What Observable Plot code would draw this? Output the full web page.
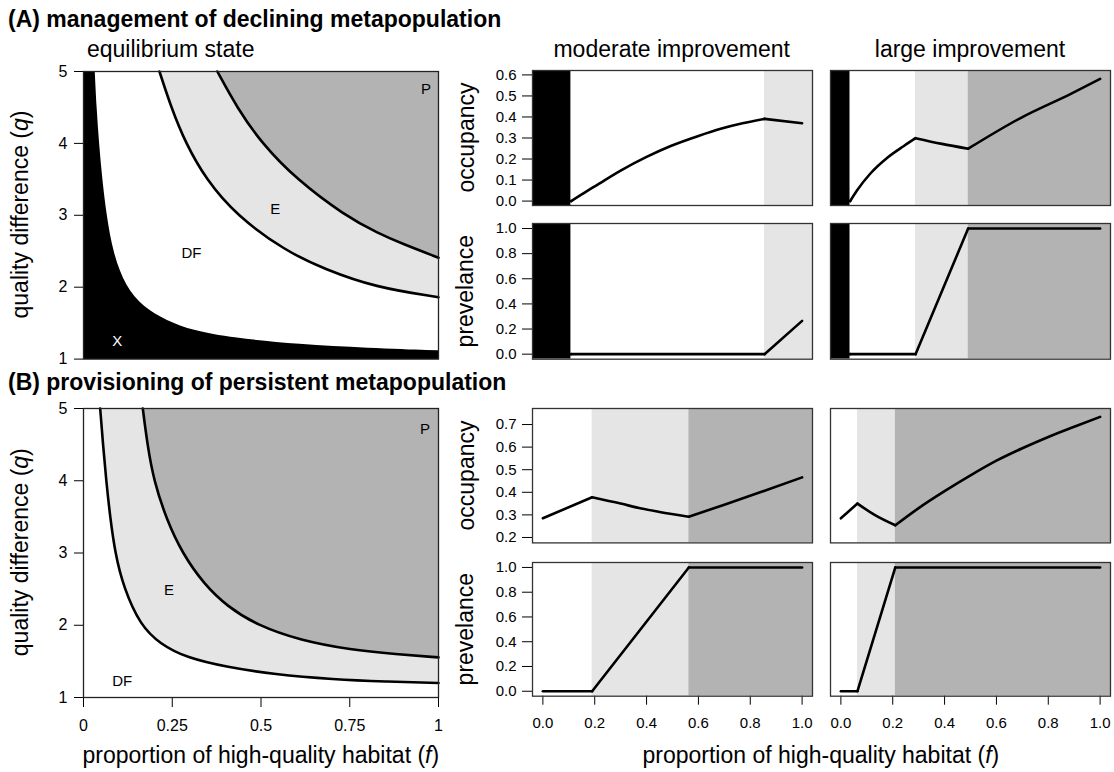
<!DOCTYPE html>
<html><head><meta charset="utf-8">
<script src="https://cdn.jsdelivr.net/npm/d3@7"></script>
<script src="https://cdn.jsdelivr.net/npm/@observablehq/plot@0.6"></script>
<style>
body{margin:0;background:#fff;}
#root{position:relative;width:1114px;height:772px;overflow:hidden;background:#fff;}
svg.pl text{font-size:16px !important;font-family:"Liberation Sans",Arial,sans-serif !important;}
svg.pl g[aria-label="text"] text{font-size:15px !important;}
svg.pr text{font-size:15px !important;font-family:"Liberation Sans",Arial,sans-serif !important;}
</style></head><body><div id="root"></div>
<script>
// ---------------- data ----------------
const stateColor = {X: "#000000", DF: "#ffffff", E: "#e5e5e5", P: "#b3b3b3"};

// (A) equilibrium-state boundaries, f = proportion high quality, q = quality difference
const aExtF = [0.033, 0.038, 0.045, 0.054, 0.066, 0.085, 0.12, 0.169, 0.235, 0.31, 0.42, 0.61, 0.80, 1.0];
const aExtQ = [5, 4.5, 4, 3.5, 3, 2.46, 2, 1.72, 1.53, 1.39, 1.29, 1.20, 1.15, 1.115];
const aEndF = [0.214, 0.247, 0.288, 0.345, 0.43, 0.57, 0.68, 0.82, 1.0];
const aEndQ = [5, 4.5, 4, 3.5, 3, 2.5, 2.25, 2, 1.86];
const aPerF = [0.377, 0.432, 0.502, 0.6, 0.735, 0.83, 0.9, 1.0];
const aPerQ = [5, 4.5, 4, 3.5, 3, 2.75, 2.6, 2.41];
const aLabF = [0.965, 0.54, 0.304];
const aLabQ = [4.76, 3.09, 2.47];
const aLabT = ["P", "E", "DF"];
const aXLabF = [0.095], aXLabQ = [1.25], aXLabT = ["X"];

// (B) equilibrium-state boundaries
const bEndF = [0.047, 0.055, 0.064, 0.075, 0.089, 0.113, 0.16, 0.216, 0.29, 0.405, 0.536, 0.705, 0.85, 1.0];
const bEndQ = [5, 4.5, 4, 3.5, 3, 2.52, 2, 1.74, 1.55, 1.42, 1.32, 1.25, 1.22, 1.2];
const bPerF = [0.167, 0.18, 0.198, 0.235, 0.278, 0.339, 0.405, 0.489, 0.611, 0.753, 0.88, 1.0];
const bPerQ = [5, 4.5, 4, 3.45, 3, 2.57, 2.26, 2, 1.79, 1.66, 1.60, 1.555];
const bLabF = [0.962, 0.241, 0.109];
const bLabQ = [4.72, 2.48, 1.23];
const bLabT = ["P", "E", "DF"];

// right-hand panels: state thresholds along f
const aModStates = ["X", "DF", "E"];
const aModBreaks = [0.109, 0.855];
const aLrgStates = ["X", "DF", "E", "P"];
const aLrgBreaks = [0.036, 0.288, 0.491];
const bModStates = ["DF", "E", "P"];
const bModBreaks = [0.19, 0.563];
const bLrgStates = ["DF", "E", "P"];
const bLrgBreaks = [0.064, 0.21];

// occupancy / prevalence series
const aModOccF = [0.109, 0.173, 0.2, 0.3, 0.4, 0.493, 0.6, 0.686, 0.77, 0.855, 1.0];
const aModOccV = [0, 0.05, 0.07, 0.145, 0.21, 0.262, 0.31, 0.344, 0.37, 0.391, 0.37];
const aModPrvF = [0.109, 0.855, 1.0];
const aModPrvV = [0, 0, 0.265];
const aLrgOccF = [0.036, 0.062, 0.113, 0.178, 0.243, 0.288, 0.39, 0.491, 0.693, 0.887, 1.0];
const aLrgOccV = [0, 0.05, 0.13, 0.205, 0.262, 0.299, 0.272, 0.249, 0.395, 0.51, 0.581];
const aLrgPrvF = [0.036, 0.288, 0.491, 1.0];
const aLrgPrvV = [0, 0, 1, 1];
const bModOccF = [0, 0.19, 0.3, 0.38, 0.45, 0.563, 0.7, 0.85, 1.0];
const bModOccV = [0.285, 0.378, 0.35, 0.328, 0.313, 0.292, 0.345, 0.405, 0.466];
const bModPrvF = [0, 0.19, 0.563, 1.0];
const bModPrvV = [0, 0, 1, 1];
const bLrgOccF = [0, 0.064, 0.13, 0.21, 0.3, 0.4, 0.5, 0.6, 0.7, 0.8, 0.9, 1.0];
const bLrgOccV = [0.285, 0.35, 0.30, 0.254, 0.33, 0.405, 0.475, 0.54, 0.595, 0.645, 0.69, 0.734];
const bLrgPrvF = [0, 0.064, 0.21, 1.0];
const bLrgPrvV = [0, 0, 1, 1];

// ticks
const qTicks = [1, 2, 3, 4, 5];
const fTicksLeft = [0, 0.25, 0.5, 0.75, 1];
const fTickLabelsLeft = ["0", "0.25", "0.5", "0.75", "1"];
const fTicksRight = [0, 0.2, 0.4, 0.6, 0.8, 1.0];
const occTicksA = [0, 0.1, 0.2, 0.3, 0.4, 0.5, 0.6];
const occTicksB = [0.2, 0.3, 0.4, 0.5, 0.6, 0.7];
const prvTicks = [0, 0.2, 0.4, 0.6, 0.8, 1.0];

// ---------------- helpers ----------------
const FONT = '"Liberation Sans", Arial, Helvetica, sans-serif';
const root = document.getElementById("root");
const fDomR = [-0.04, 1.04];

function bands(states, breaks) {
  const edges = [fDomR[0], ...breaks, fDomR[1]];
  return states.map((s, i) => ({state: s, from: edges[i], to: edges[i + 1]}));
}
// split a series at the state thresholds so each state's stretch is its own smooth piece
function segments(F, V, breaks) {
  const out = [];
  F.forEach((f, i) => {
    const k = breaks.filter(b => b <= f + 1e-9).length;
    out.push({f, v: V[i], seg: k});
    if (breaks.some(b => Math.abs(b - f) < 1e-9)) out.push({f, v: V[i], seg: k - 1});
  });
  return out;
}

function place(frame, pad, marks, scales, cls) {
  const [x0, y0, x1, y1] = frame;
  const [pl, pr, pt, pb] = pad;
  const svg = Plot.plot({
    width: x1 - x0 + pl + pr,
    height: y1 - y0 + pt + pb,
    marginLeft: pl, marginRight: pr, marginTop: pt, marginBottom: pb,
    style: {fontFamily: FONT, color: "#000", background: "transparent", overflow: "visible"},
    ...scales,
    marks
  });
  svg.classList.add(cls);
  svg.style.position = "absolute";
  svg.style.left = (x0 - pl) + "px";
  svg.style.top = (y0 - pt) + "px";
  root.appendChild(svg);
}

// ---------------- left panels ----------------
const LX0 = 83.3, LX1 = 438.3;
const CURVE = "basis";
function leftPanel(frameY, layers, lines, labels, whiteLabels, withX) {
  const marks = [...layers];
  lines.forEach(d => marks.push(Plot.line(d, {x: "f", y: "q", stroke: "black", strokeWidth: 2.6, curve: CURVE})));
  marks.push(Plot.text(labels, {x: "f", y: "q", text: "t", fill: "black"}));
  if (whiteLabels) marks.push(Plot.text(whiteLabels, {x: "f", y: "q", text: "t", fill: "white"}));
  marks.push(Plot.axisY({ticks: qTicks, tickSize: 9, tickPadding: 7, label: null, tickFormat: d => String(d)}));
  if (withX) marks.push(Plot.axisX({ticks: fTicksLeft, tickSize: 10, tickPadding: 12, label: null,
    tickFormat: (d, i) => fTickLabelsLeft[i]}));
  marks.push(Plot.frame({stroke: "#222", strokeWidth: 1.3}));
  place([LX0, frameY[0], LX1, frameY[1]], [60, 6, 4, withX ? 45 : 4], marks,
    {x: {domain: [0, 1], axis: withX ? undefined : null}, y: {domain: [1, 5]}}, "pl");
}

const toPts = (F, Q) => F.map((f, i) => ({f, q: Q[i]}));
const aExt = toPts(aExtF, aExtQ), aEnd = toPts(aEndF, aEndQ), aPer = toPts(aPerF, aPerQ);
const bEnd = toPts(bEndF, bEndQ), bPer = toPts(bPerF, bPerQ);
const qTop = qTicks[qTicks.length - 1];

leftPanel([70.7, 358.3], [
  Plot.frame({fill: stateColor.X, stroke: null}),
  Plot.areaY(aExt, {x: "f", y1: "q", y2: qTop, fill: stateColor.DF, curve: CURVE}),
  Plot.areaY(aEnd, {x: "f", y1: "q", y2: qTop, fill: stateColor.E, curve: CURVE}),
  Plot.areaY(aPer, {x: "f", y1: "q", y2: qTop, fill: stateColor.P, curve: CURVE})
], [aEnd, aPer],
  aLabF.map((f, i) => ({f, q: aLabQ[i], t: aLabT[i]})),
  aXLabF.map((f, i) => ({f, q: aXLabQ[i], t: aXLabT[i]})), false);

leftPanel([407.7, 696.7], [
  Plot.frame({fill: stateColor.DF, stroke: null}),
  Plot.areaY(bEnd, {x: "f", y1: "q", y2: qTop, fill: stateColor.E, curve: CURVE}),
  Plot.areaY(bPer, {x: "f", y1: "q", y2: qTop, fill: stateColor.P, curve: CURVE})
], [bEnd, bPer],
  bLabF.map((f, i) => ({f, q: bLabQ[i], t: bLabT[i]})), null, true);

// ---------------- right panels ----------------
const MX = [531.7, 811.7], GX = [830, 1110];
function rightPanel(xr, yr, states, breaks, F, V, yDomain, yTicks, showY, showX) {
  const marks = [
    Plot.rect(bands(states, breaks), {x1: "from", x2: "to", fill: d => stateColor[d.state], clip: true}),
    Plot.line(segments(F, V, breaks), {x: "f", y: "v", z: "seg", stroke: "black", strokeWidth: 2.6, curve: "monotone-x", clip: true})
  ];
  if (showY) marks.push(Plot.axisY({ticks: yTicks, tickSize: 10, tickPadding: 6, label: null,
    tickFormat: d => d.toFixed(1)}));
  if (showX) marks.push(Plot.axisX({ticks: fTicksRight, tickSize: 9, tickPadding: 12, label: null,
    tickFormat: d => d.toFixed(1)}));
  marks.push(Plot.frame({stroke: "#333", strokeWidth: 1.3}));
  place([xr[0], yr[0], xr[1], yr[1]], [showY ? 55 : 2, 3, 3, showX ? 45 : 3], marks, {
    x: {domain: fDomR, axis: showX ? undefined : null},
    y: {domain: yDomain, axis: showY ? undefined : null},
    color: {type: "identity"}
  }, "pr");
}
const occDomA = [-0.021, 0.621], prvDom = [-0.04, 1.04], occDomB = [0.176, 0.771];
const rowA1 = [70, 205], rowA2 = [223.3, 359], rowB1 = [408.3, 542.7], rowB2 = [562.3, 696];

rightPanel(MX, rowA1, aModStates, aModBreaks, aModOccF, aModOccV, occDomA, occTicksA, true, false);
rightPanel(GX, rowA1, aLrgStates, aLrgBreaks, aLrgOccF, aLrgOccV, occDomA, occTicksA, false, false);
rightPanel(MX, rowA2, aModStates, aModBreaks, aModPrvF, aModPrvV, prvDom, prvTicks, true, false);
rightPanel(GX, rowA2, aLrgStates, aLrgBreaks, aLrgPrvF, aLrgPrvV, prvDom, prvTicks, false, false);
rightPanel(MX, rowB1, bModStates, bModBreaks, bModOccF, bModOccV, occDomB, occTicksB, true, false);
rightPanel(GX, rowB1, bLrgStates, bLrgBreaks, bLrgOccF, bLrgOccV, occDomB, occTicksB, false, false);
rightPanel(MX, rowB2, bModStates, bModBreaks, bModPrvF, bModPrvV, prvDom, prvTicks, true, true);
rightPanel(GX, rowB2, bLrgStates, bLrgBreaks, bLrgPrvF, bLrgPrvV, prvDom, prvTicks, false, true);

// ---------------- titles and axis labels ----------------
const ov = d3.select(root).append("svg")
  .attr("width", 1114).attr("height", 772)
  .style("position", "absolute").style("left", "0px").style("top", "0px")
  .style("pointer-events", "none")
  .attr("font-family", FONT);

function txt(x, y, s, opts = {}) {
  const t = ov.append("text").attr("x", x).attr("y", y)
    .attr("font-size", opts.size || 23)
    .attr("font-weight", opts.bold ? "bold" : "normal")
    .attr("text-anchor", opts.anchor || "start")
    .attr("fill", "#000");
  if (opts.rotate) t.attr("transform", `rotate(-90 ${x} ${y})`);
  if (Array.isArray(s)) {
    t.append("tspan").text(s[0]);
    t.append("tspan").attr("font-style", "italic").text(s[1]);
    t.append("tspan").text(s[2]);
  } else t.text(s);
  return t;
}

txt(8, 26.5, "(A) management of declining metapopulation", {bold: true});
txt(8, 389.5, "(B) provisioning of persistent metapopulation", {bold: true});
txt(87, 57, "equilibrium state");
txt((MX[0] + MX[1]) / 2, 57, "moderate improvement", {anchor: "middle"});
txt((GX[0] + GX[1]) / 2, 57, "large improvement", {anchor: "middle"});
txt(28, (70.7 + 358.3) / 2, ["quality difference (", "q", ")"], {anchor: "middle", rotate: true});
txt(28, (407.7 + 696.7) / 2, ["quality difference (", "q", ")"], {anchor: "middle", rotate: true});
txt(473.5, (rowA1[0] + rowA1[1]) / 2, "occupancy", {anchor: "middle", rotate: true});
txt(473.5, (rowA2[0] + rowA2[1]) / 2, "prevelance", {anchor: "middle", rotate: true});
txt(473.5, (rowB1[0] + rowB1[1]) / 2, "occupancy", {anchor: "middle", rotate: true});
txt(473.5, (rowB2[0] + rowB2[1]) / 2, "prevelance", {anchor: "middle", rotate: true});
txt((LX0 + LX1) / 2, 763, ["proportion of high-quality habitat (", "f", ")"], {anchor: "middle"});
txt((MX[0] + GX[1]) / 2, 763, ["proportion of high-quality habitat (", "f", ")"], {anchor: "middle"});
</script></body></html>
